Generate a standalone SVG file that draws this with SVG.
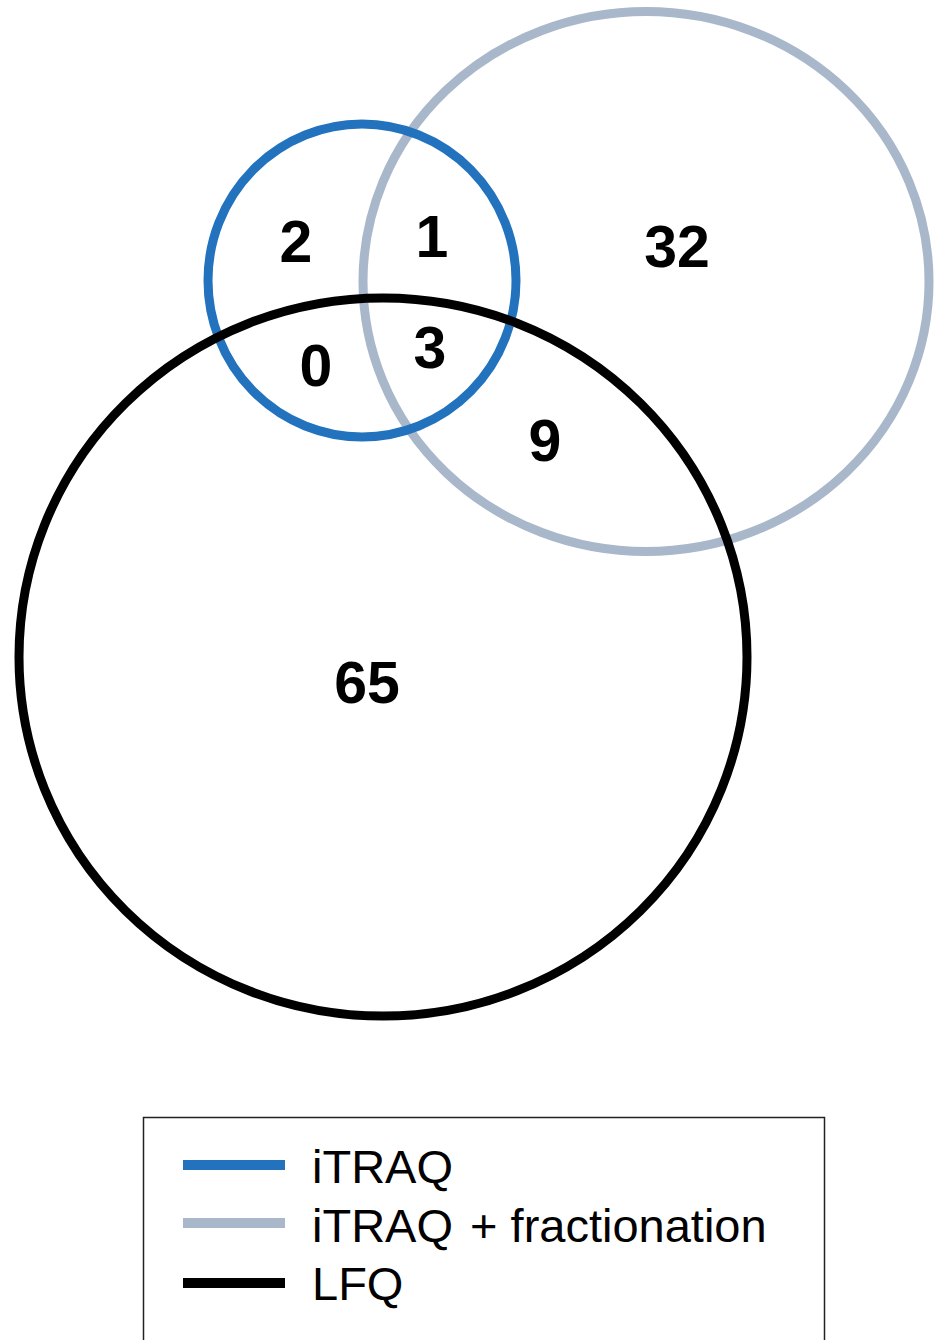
<svg xmlns="http://www.w3.org/2000/svg" width="935" height="1340" viewBox="0 0 935 1340">
<style>
.ring{fill:none;stroke-width:9}
.num{font-family:"Liberation Sans",Arial,sans-serif;font-weight:bold;font-size:59px;fill:#000;text-anchor:middle}
.leg{font-family:"Liberation Sans",Arial,sans-serif;font-size:47px;fill:#000}
</style>
<rect width="935" height="1340" fill="#fff"/>
<g id="fractionation"><ellipse class="ring" cx="646" cy="281.5" rx="283" ry="270" stroke="#A9B7CB"/></g>
<g id="itraq"><ellipse class="ring" cx="362" cy="280.5" rx="154" ry="156.5" stroke="#2272BE"/></g>
<g id="lfq"><ellipse class="ring" cx="383" cy="657" rx="364" ry="359" stroke="#000"/></g>
<g id="counts">
<text class="num" x="296" y="262">2</text>
<text class="num" x="432" y="257">1</text>
<text class="num" x="677" y="267">32</text>
<text class="num" x="316" y="386">0</text>
<text class="num" x="430" y="368">3</text>
<text class="num" x="545" y="461">9</text>
<text class="num" x="367" y="703">65</text>
</g>
<g id="legend">
<rect x="143.5" y="1117.5" width="681" height="240" fill="none" stroke="#222" stroke-width="1.5"/>
<line x1="183" y1="1165" x2="285" y2="1165" stroke="#2272BE" stroke-width="10"/>
<line x1="183" y1="1223" x2="285" y2="1223" stroke="#A9B7CB" stroke-width="10"/>
<line x1="183" y1="1283" x2="285" y2="1283" stroke="#000" stroke-width="10"/>
<text class="leg" x="312" y="1183">iTRAQ</text>
<text class="leg" x="312" y="1242">iTRAQ <tspan dx="4">+ fractionation</tspan></text>
<text class="leg" x="312" y="1300">LFQ</text>
</g>
</svg>
